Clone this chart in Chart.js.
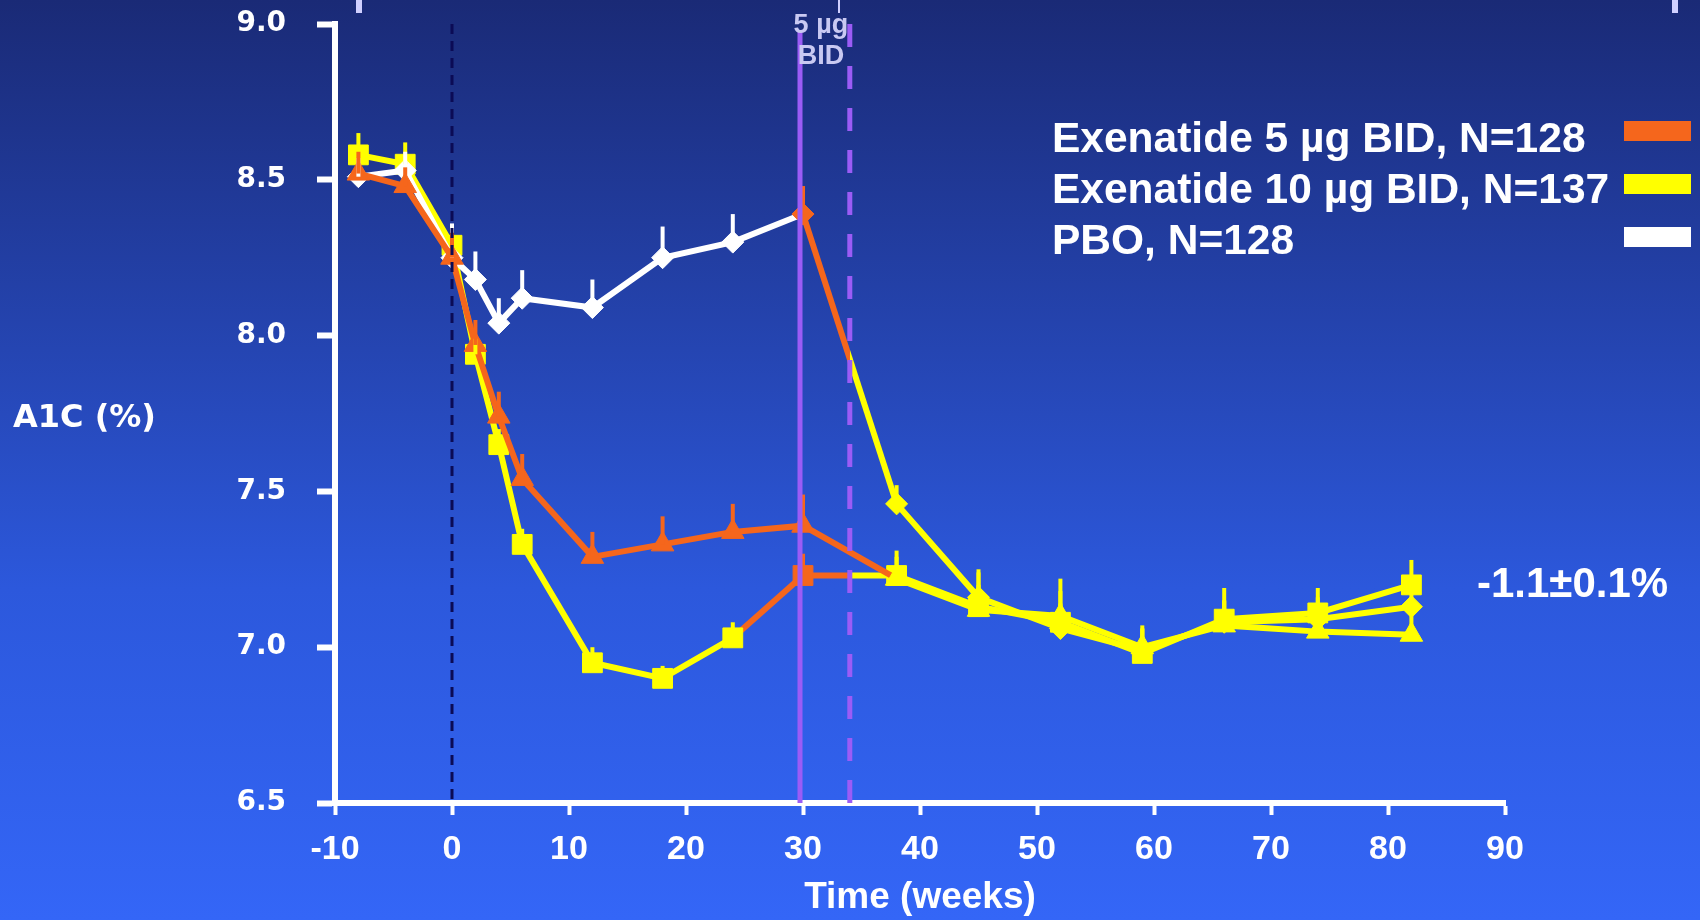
<!DOCTYPE html>
<html>
<head>
<meta charset="utf-8">
<script src="https://cdn.jsdelivr.net/npm/chart.js@4.4.1/dist/chart.umd.min.js"></script>
<style>
html, body { margin: 0; padding: 0; }
body {
  width: 1700px; height: 920px; overflow: hidden;
  background: linear-gradient(to bottom, #1a2a76 0%, #274abd 45%, #2c58dc 64%, #3466f7 100%);
}
canvas { display: block; }
</style>
</head>
<body>
<canvas id="chart" width="1700" height="920"></canvas>
<script>
// visit weeks (x) and mean A1C (%) per arm, upper error bar lengths
var weeks = [-8, -4, 0, 2, 4, 6, 12, 18, 24, 30, 38, 45, 52, 59, 66, 74, 82];
var exe5Values = [8.52, 8.48, 8.25, 7.97, 7.74, 7.54, 7.29, 7.33, 7.37, 7.39, 7.22, 7.12, 7.10, 7.00, 7.07, 7.05, 7.04];
var exe5Errors = [0.07, 0.06, 0.08, 0.08, 0.08, 0.08, 0.08, 0.09, 0.09, 0.10, 0.07, 0.08, 0.12, 0.07, 0.08, 0.06, 0.06];
var exe10Values = [8.58, 8.55, 8.29, 7.94, 7.65, 7.33, 6.95, 6.90, 7.03, 7.23, 7.23, 7.13, 7.08, 6.98, 7.09, 7.11, 7.20];
var exe10Errors = [0.07, 0.07, 0.06, 0.05, 0.05, 0.05, 0.05, 0.04, 0.05, 0.07, 0.08, 0.12, 0.10, 0.08, 0.10, 0.08, 0.08];
var pboValues = [8.51, 8.53, 8.25, 8.18, 8.04, 8.12, 8.09, 8.25, 8.30, 8.39, 7.46, 7.16, 7.06, 6.99, 7.08, 7.09, 7.13];
var pboErrors = [0.06, 0.06, 0.11, 0.09, 0.08, 0.09, 0.09, 0.10, 0.09, 0.09, 0.06, 0.08, 0.08, 0.07, 0.07, 0.07, 0.07];

var seriesNames = ["Exenatide 5 µg BID, N=128", "Exenatide 10 µg BID, N=137", "PBO, N=128"];
var xTicks = [-10, 0, 10, 20, 30, 40, 50, 60, 70, 80, 90];
var yTicks = [6.5, 7.0, 7.5, 8.0, 8.5, 9.0];
var baselineWeek = 0;     // dark dashed line
var openLabelWeek = 30;   // start of open-label 5 µg BID
var doseUpWeek = 34;      // switch to 10 µg BID
var doseLabel = ["5 µg", "BID"];
var resultLabel = "-1.1±0.1%";
var yTitle = "A1C (%)";
var xTitle = "Time (weeks)";

var ORANGE = "#f5661c";
var YELLOW = "#ffff00";
var WHITE = "#ffffff";
var PURPLE = "#9b5cf6";
var NAVY = "#0b0b55";
var LAVENDER = "#c9c9f2";

var canvas = document.getElementById("chart");
var ctx2d = canvas.getContext("2d");

function toPoints(values) {
  return values.map(function(v, i) {
    return { x: weeks[i], y: v };
  });
}

// colour of a marker / error bar for a given week
function phaseColor(ds, week) {
  if (week < openLabelWeek) return ds.baseColor;
  if (week === openLabelWeek) return ORANGE;
  return YELLOW;
}

function segmentColor(ctx) {
  var ds = datasets[ctx.datasetIndex];
  var w0 = weeks[ctx.p0DataIndex];
  var w1 = weeks[ctx.p1DataIndex];
  if (w1 < openLabelWeek) return ds.baseColor;
  if (w1 === openLabelWeek) return ds.leadColor;
  if (w0 < doseUpWeek && w1 > doseUpWeek) {
    if (!ds.bridgeSplit) return ORANGE;
    var f = (doseUpWeek - w0) / (w1 - w0);
    var g = ctx2d.createLinearGradient(ctx.p0.x, 0, ctx.p1.x, 0);
    g.addColorStop(0, ORANGE);
    g.addColorStop(f, ORANGE);
    g.addColorStop(f, YELLOW);
    g.addColorStop(1, YELLOW);
    return g;
  }
  return YELLOW;
}

function markerColor(ctx) {
  return phaseColor(ctx.dataset, weeks[ctx.dataIndex]);
}

var datasets = [
  {
    label: seriesNames[0],
    data: toPoints(exe5Values),
    errors: exe5Errors,
    baseColor: ORANGE,
    leadColor: ORANGE,
    bridgeSplit: false,
    pointStyle: "triangle",
    pointRadius: 13
  },
  {
    label: seriesNames[2],
    data: toPoints(pboValues),
    errors: pboErrors,
    baseColor: WHITE,
    leadColor: WHITE,
    bridgeSplit: true,
    pointStyle: "rectRot",
    pointRadius: 11
  },
  {
    label: seriesNames[1],
    data: toPoints(exe10Values),
    errors: exe10Errors,
    baseColor: YELLOW,
    leadColor: ORANGE,
    bridgeSplit: true,
    pointStyle: "rect",
    pointRadius: 14
  }
];

datasets.forEach(function(ds) {
  ds.borderWidth = 6;
  ds.fill = false;
  ds.tension = 0;
  ds.borderColor = ds.baseColor;
  ds.pointBackgroundColor = markerColor;
  ds.pointBorderColor = markerColor;
  ds.pointBorderWidth = 1;
  ds.segment = { borderColor: segmentColor };
});

function drawText(ctx, text, x, y, font, color, align) {
  ctx.font = font;
  ctx.fillStyle = color;
  ctx.textAlign = align || "left";
  ctx.textBaseline = "alphabetic";
  ctx.fillText(text, x, y);
}

var overlayPlugin = {
  id: "overlay",
  afterDatasetsDraw: function(chart) {
    var ctx = chart.ctx;
    var xs = chart.scales.x;
    var ys = chart.scales.y;
    var area = chart.chartArea;
    ctx.save();

    // upper error bars
    for (var di = chart.data.datasets.length - 1; di >= 0; di--) {
      var ds = chart.data.datasets[di];
      var meta = chart.getDatasetMeta(di);
      meta.data.forEach(function(pt, i) {
        var top = ys.getPixelForValue(ds.data[i].y + ds.errors[i]);
        ctx.strokeStyle = phaseColor(ds, weeks[i]);
        ctx.lineWidth = 4;
        ctx.beginPath();
        ctx.moveTo(pt.x, pt.y);
        ctx.lineTo(pt.x, top);
        ctx.stroke();
      });
    }

    // reference lines
    var x0 = xs.getPixelForValue(baselineWeek);
    ctx.strokeStyle = NAVY;
    ctx.lineWidth = 3;
    ctx.setLineDash([10, 7]);
    ctx.beginPath();
    ctx.moveTo(x0, area.top);
    ctx.lineTo(x0, area.bottom);
    ctx.stroke();

    var x30 = xs.getPixelForValue(openLabelWeek) - 3;
    ctx.strokeStyle = PURPLE;
    ctx.lineWidth = 5;
    ctx.setLineDash([]);
    ctx.beginPath();
    ctx.moveTo(x30, area.top + 8);
    ctx.lineTo(x30, area.bottom);
    ctx.stroke();

    var x34 = xs.getPixelForValue(doseUpWeek);
    ctx.setLineDash([23, 19]);
    ctx.beginPath();
    ctx.moveTo(x34, area.top);
    ctx.lineTo(x34, area.bottom);
    ctx.stroke();
    ctx.setLineDash([]);

    // small marks along the top edge
    ctx.strokeStyle = "#d0d0ff";
    [[359, 6], [839, 2], [1675, 6]].forEach(function(m) {
      ctx.lineWidth = m[1];
      ctx.beginPath();
      ctx.moveTo(m[0], 0);
      ctx.lineTo(m[0], 13);
      ctx.stroke();
    });

    // dose annotation
    var xMid = (x30 + x34) / 2 - 4;
    drawText(ctx, doseLabel[0], xMid, 33, "bold 27px 'Liberation Sans'", LAVENDER, "center");
    drawText(ctx, doseLabel[1], xMid, 64, "bold 27px 'Liberation Sans'", LAVENDER, "center");

    // legend (text left, swatch right)
    var legendColors = [ORANGE, YELLOW, WHITE];
    var baselines = [152, 203, 254];
    var swatchTops = [121, 174, 227];
    for (var k = 0; k < seriesNames.length; k++) {
      drawText(ctx, seriesNames[k], 1052, baselines[k], "bold 42.5px 'Liberation Sans'", WHITE, "left");
      ctx.fillStyle = legendColors[k];
      ctx.fillRect(1624, swatchTops[k], 67, 20);
    }

    // end result
    drawText(ctx, resultLabel, 1477, 597, "bold 42px 'Liberation Sans'", WHITE, "left");

    // y title, horizontal
    drawText(ctx, yTitle, 13, 427, "bold 32px 'DejaVu Sans'", WHITE, "left");

    ctx.restore();
  }
};

var chart = new Chart(canvas, {
  type: "line",
  data: { datasets: datasets },
  options: {
    responsive: false,
    animation: false,
    devicePixelRatio: 1,
    events: [],
    layout: { padding: { top: 24, right: 195, left: 0, bottom: 0 } },
    plugins: {
      legend: { display: false },
      tooltip: { enabled: false }
    },
    scales: {
      x: {
        type: "linear",
        min: xTicks[0],
        max: xTicks[xTicks.length - 1],
        afterBuildTicks: function(scale) {
          scale.ticks = xTicks.map(function(v) { return { value: v }; });
        },
        afterFit: function(scale) { scale.height = 117; },
        ticks: {
          color: WHITE,
          padding: 14,
          autoSkip: false,
          maxRotation: 0,
          font: { family: "'Liberation Sans'", size: 34, weight: "bold" },
          callback: function(v) { return String(v); }
        },
        grid: {
          drawOnChartArea: false,
          drawTicks: true,
          tickLength: 12,
          tickWidth: 4,
          tickColor: WHITE
        },
        border: { display: true, color: WHITE, width: 6 },
        title: {
          display: true,
          text: xTitle,
          color: WHITE,
          padding: { top: 0, bottom: 0 },
          font: { family: "'Liberation Sans'", size: 37, weight: "bold" }
        }
      },
      y: {
        type: "linear",
        min: yTicks[0],
        max: yTicks[yTicks.length - 1],
        afterBuildTicks: function(scale) {
          scale.ticks = yTicks.map(function(v) { return { value: v }; });
        },
        afterFit: function(scale) {
          scale.width = 335;
          scale.paddingTop = 0;
          scale.paddingBottom = 0;
        },
        ticks: {
          color: WHITE,
          padding: 31,
          font: { family: "'DejaVu Sans'", size: 28, weight: "bold" },
          callback: function(v) { return Number(v).toFixed(1); }
        },
        grid: {
          drawOnChartArea: false,
          drawTicks: true,
          tickLength: 18,
          tickWidth: 6,
          tickColor: WHITE
        },
        border: { display: true, color: WHITE, width: 6 }
      }
    }
  },
  plugins: [overlayPlugin]
});
</script>
</body>
</html>
